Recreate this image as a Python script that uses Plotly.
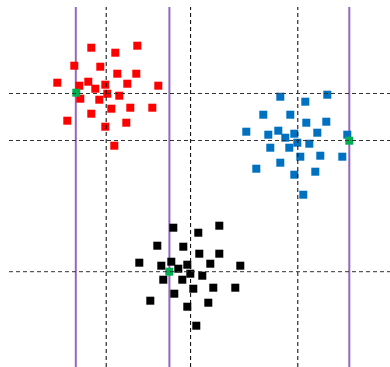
import plotly.graph_objects as go

# Cluster points (x, y)
red_x = [91.3, 137.3, 115.3, 74.3, 100.3, 117.3, 136.3, 57.3, 79.3, 88.3, 105.3, 127.3, 158.3,
         95.3, 107.3, 80.3, 99.3, 119.3, 111.3, 130.3, 152.3, 91.3, 67.3, 126.3, 105.3, 114.3]
red_y = [319.3, 321.3, 314.3, 301.3, 300.3, 293.3, 293.3, 284.3, 281.3, 285.3, 282.3, 283.3, 281.3,
         278.3, 273.3, 268.3, 267.3, 271.3, 258.3, 259.3, 259.3, 253.3, 246.3, 244.3, 240.3, 221.3]

blue_x = [280.3, 327.3, 305.3, 263.3, 290.3, 306.3, 326.3, 246.3, 268.3, 278.3, 294.3, 317.3, 347.3,
          285.3, 297.3, 270.3, 289.3, 309.3, 300.3, 320.3, 342.3, 280.3, 256.3, 315.3, 294.3, 303.3]
blue_y = [270.3, 272.3, 265.3, 252.3, 252.3, 244.3, 245.3, 235.3, 232.3, 236.3, 233.3, 234.3, 232.3,
          229.3, 224.3, 219.3, 219.3, 223.3, 210.3, 211.3, 210.3, 204.3, 198.3, 195.3, 192.3, 172.3]

black_x = [173.3, 219.3, 198.3, 157.3, 183.3, 199.3, 219.3, 139.3, 161.3, 171.3, 187.3, 210.3, 240.3,
           178.3, 190.3, 163.3, 182.3, 202.3, 193.3, 213.3, 235.3, 174.3, 150.3, 208.3, 187.3, 196.3]
black_y = [139.3, 141.3, 134.3, 121.3, 120.3, 113.3, 113.3, 104.3, 101.3, 105.3, 102.3, 103.3, 101.3,
           98.3, 93.3, 87.3, 87.3, 91.3, 78.3, 79.3, 79.3, 73.3, 66.3, 64.3, 60.3, 41.3]

# Highlighted points
green_x = [76.3, 349.3, 169.3]
green_y = [274.3, 226.3, 95.3]

# Reference lines
purple_lines_x = [75.8, 169.4, 349.3]
dashed_lines_x = [106.2, 190.6, 297.8]
dashed_lines_y = [273.5, 226.5, 95.3]

X_MIN, X_MAX = 9, 390
Y_MIN, Y_MAX = 0, 360


def vlines(xs):
    lx, ly = [], []
    for v in xs:
        lx += [v, v, None]
        ly += [Y_MIN, Y_MAX, None]
    return lx, ly


def hlines(ys):
    lx, ly = [], []
    for v in ys:
        lx += [X_MIN, X_MAX, None]
        ly += [v, v, None]
    return lx, ly


fig = go.Figure()

px_, py_ = vlines(purple_lines_x)
fig.add_trace(go.Scatter(x=px_, y=py_, mode="lines",
                         line=dict(color="#9467bd", width=2), hoverinfo="skip"))

marker_common = dict(symbol="square", size=8, line=dict(width=0))
fig.add_trace(go.Scatter(x=red_x, y=red_y, mode="markers",
                         marker=dict(color="#ff0000", **marker_common)))
fig.add_trace(go.Scatter(x=blue_x, y=blue_y, mode="markers",
                         marker=dict(color="#0070c0", **marker_common)))
fig.add_trace(go.Scatter(x=black_x, y=black_y, mode="markers",
                         marker=dict(color="#000000", **marker_common)))
fig.add_trace(go.Scatter(x=green_x, y=green_y, mode="markers",
                         marker=dict(color="#00b050", **marker_common)))

dvx, dvy = vlines(dashed_lines_x)
fig.add_trace(go.Scatter(x=dvx, y=dvy, mode="lines",
                         line=dict(color="#000000", width=1, dash="4px,3px"), hoverinfo="skip"))
dhx, dhy = hlines(dashed_lines_y)
fig.add_trace(go.Scatter(x=dhx, y=dhy, mode="lines",
                         line=dict(color="#333333", width=1, dash="4px,3px"), hoverinfo="skip"))

fig.update_layout(
    width=390, height=367,
    margin=dict(l=9, r=0, t=7, b=0),
    paper_bgcolor="white", plot_bgcolor="white",
    showlegend=False,
    xaxis=dict(range=[X_MIN, X_MAX], visible=False, fixedrange=True),
    yaxis=dict(range=[Y_MIN, Y_MAX], visible=False, fixedrange=True),
)

fig.write_html("out.html", config={"displayModeBar": False})
